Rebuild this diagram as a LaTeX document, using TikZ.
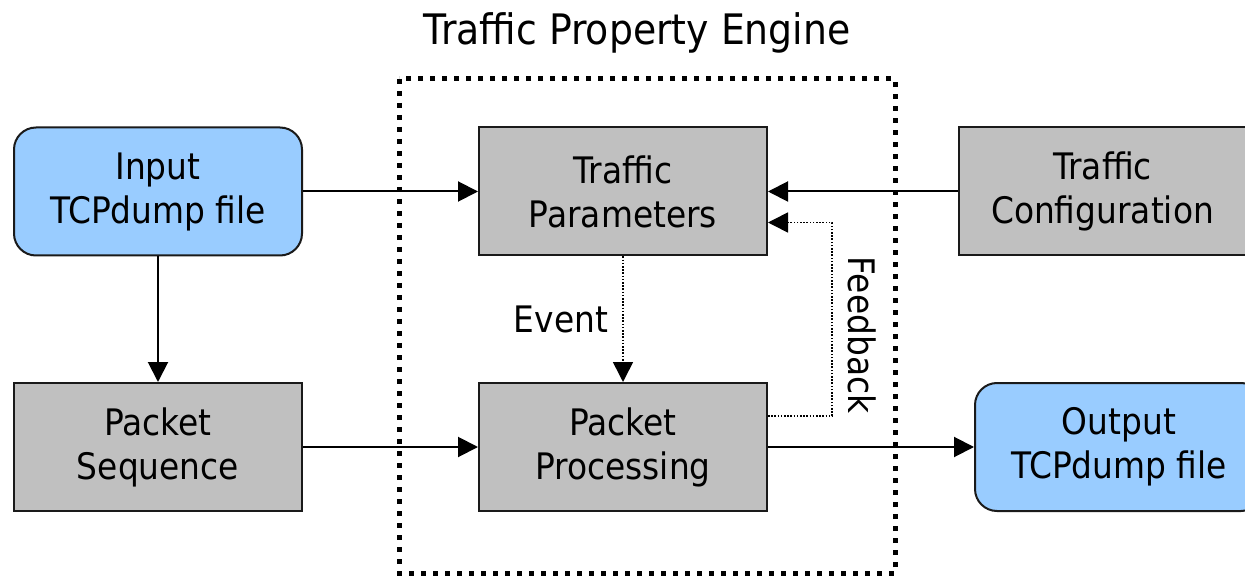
\documentclass[tikz,border=0pt]{standalone}
\usepackage{fontspec}
\setmainfont{DejaVu Sans}[FakeStretch=0.90]
\usetikzlibrary{arrows.meta}

\definecolor{boxgray}{HTML}{C0C0C0}
\definecolor{fileblue}{HTML}{99CCFF}
\definecolor{edge}{HTML}{1A1A1A}

\tikzset{
  block/.style={draw=edge, line width=2pt, fill=boxgray, minimum width=288pt,
    minimum height=128pt, inner sep=0pt, align=center,
    font=\fontsize{36.5}{44}\selectfont},
  filebox/.style={block, fill=fileblue, rounded corners=22pt},
  arr/.style={line width=2pt, draw=black, -{Triangle[length=20pt,width=20pt]}},
  thin dots/.style={line width=1.6pt, draw=black, dash pattern=on 1.6pt off 1.6pt,
    -{Triangle[length=20pt,width=20pt,fill=black]}},
  frame/.style={line width=5pt, dash pattern=on 5pt off 7pt},
  lbl/.style={font=\fontsize{36.5}{44}\selectfont, inner sep=0pt}
}

\begin{document}
\begin{tikzpicture}[x=1pt, y=-1pt]
  \useasboundingbox (0,0) rectangle (1245,577);

  % engine boundary and title
  \draw[frame] (399,79) rectangle (895,573);
  \node[font=\fontsize{42}{48}\selectfont, anchor=base, inner sep=0pt] (title) at (637,45) {Traffic Property Engine};

  % blocks
  \node[filebox] (inp) at (158,191.5) {Input\\TCPdump file};
  \node[block]   (tp)  at (623,191.5) {Traffic\\Parameters};
  \node[block]   (tc)  at (1102.5,191.5) {Traffic\\Configuration};
  \node[block]   (ps)  at (158,447) {Packet\\Sequence};
  \node[block]   (pp)  at (623,447) {Packet\\Processing};
  \node[filebox] (out) at (1119,447) {Output\\TCPdump file};

  % data flow
  \draw[arr] (inp.east) -- (tp.west);
  \draw[arr] (tc.west) -- (tp.east);
  \draw[arr] (inp.south) -- (ps.north);
  \draw[arr] (ps.east) -- (pp.west);
  \draw[arr] (pp.east) -- (out.west);

  % event and feedback loop
  \draw[thin dots] (tp.south) -- (pp.north);
  \node[lbl, anchor=base] (event) at (561,333) {Event};
  \draw[thin dots] ([yshift=31pt]pp.east) -- ++(64,0) |- ([yshift=-31pt]tp.east);
  \node[lbl, rotate=-90] (feedback) at (862,335) {Feedback};
\end{tikzpicture}
\end{document}
